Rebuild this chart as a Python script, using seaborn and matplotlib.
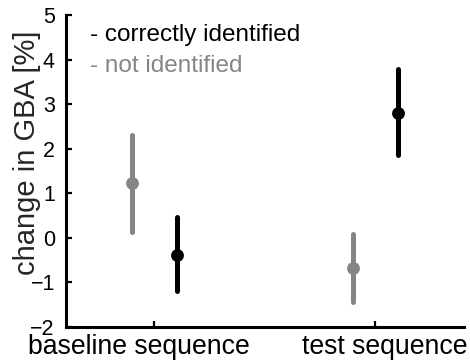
import matplotlib
matplotlib.use("Agg")
import matplotlib.pyplot as plt
import matplotlib.transforms as mtransforms
import seaborn as sns
import pandas as pd

# ---- data ----
sequences = ["baseline sequence", "test sequence"]
groups = ["not identified", "correctly identified"]
# mean and lower/upper error-bar ends for each group, per sequence
not_id_mean = [1.22, -0.68]
not_id_low = [0.14, -1.45]
not_id_high = [2.31, 0.08]
correct_mean = [-0.38, 2.80]
correct_low = [-1.20, 1.85]
correct_high = [0.46, 3.78]
y_ticks = [-2, -1, 0, 1, 2, 3, 4, 5]

rows = []
for g, lo, mid, hi in [("not identified", not_id_low, not_id_mean, not_id_high),
                       ("correctly identified", correct_low, correct_mean, correct_high)]:
    for i, s in enumerate(sequences):
        for v in (lo[i], mid[i], hi[i]):
            rows.append({"sequence": s, "group": g, "value": v})
df = pd.DataFrame(rows)

sns.set_theme(style="ticks")
plt.rcParams["font.family"] = ["Liberation Sans", "DejaVu Sans"]

GRAY = "#858585"
palette = {"not identified": GRAY, "correctly identified": "black"}

fig = plt.figure(figsize=(4.70, 3.61), dpi=100)
ax = fig.add_axes([0.1404, 0.0942, 0.987 - 0.1404, 0.9584 - 0.0942])

sns.pointplot(data=df, x="sequence", y="value", hue="group",
              order=sequences, hue_order=groups, palette=palette,
              estimator="median", errorbar=("pi", 100),
              dodge=0.2, linestyle="none", markers="o", markersize=7.2,
              err_kws={"linewidth": 3.6}, capsize=0, legend=False, ax=ax)

ax.set_xlim(-0.4, 1.4)
ax.set_ylim(-2, 5)
ax.set_yticks(y_ticks)
ax.set_yticklabels([str(t).replace("-", "\u2212") for t in y_ticks])
ax.set_xlabel("")
ax.set_ylabel("change in GBA [%]", fontsize=21)
ax.yaxis.set_label_coords(-0.064, 0.56)

for sp in ["top", "right"]:
    ax.spines[sp].set_visible(False)
for sp in ["left", "bottom"]:
    ax.spines[sp].set_linewidth(2.2)
    ax.spines[sp].set_color("black")

ax.tick_params(axis="y", direction="in", length=4, width=1.6, labelsize=15.5, pad=8, colors="black")
ax.tick_params(axis="x", direction="in", length=4, width=1.6, labelsize=19.2, pad=5, colors="black")

# shift x tick labels as in the reference
offsets = [-16, 9]
for lab, dx in zip(ax.get_xticklabels(), offsets):
    lab.set_transform(lab.get_transform() + mtransforms.ScaledTranslation(dx / 100, 0, fig.dpi_scale_trans))

# legend as text
ax.text(0.06, 0.935, "- correctly identified", transform=ax.transAxes, color="black",
        fontsize=17.5, va="center", ha="left")
ax.text(0.06, 0.838, "- not identified", transform=ax.transAxes, color=GRAY,
        fontsize=17.5, va="center", ha="left")

fig.savefig("out.png", dpi=100)
